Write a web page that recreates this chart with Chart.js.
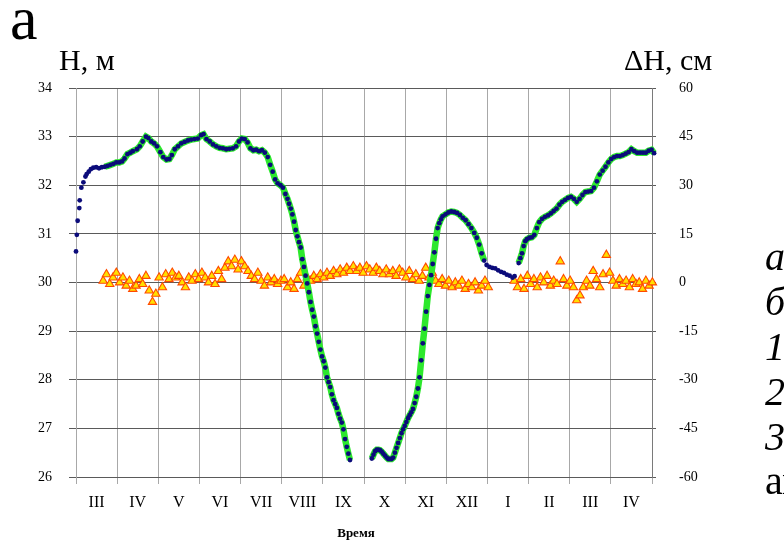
<!DOCTYPE html>
<html>
<head>
<meta charset="utf-8">
<script src="https://cdn.jsdelivr.net/npm/chart.js@4.4.1/dist/chart.umd.min.js"></script>
<style>
  html, body { margin: 0; padding: 0; background: #fff; }
  #wrap { width: 784px; height: 547px; }
</style>
</head>
<body>
<div id="wrap"><canvas id="chart" width="784" height="547"></canvas></div>
<script>
// Month bands along the time axis (one band = one month)
const monthLabels = ["III", "IV", "V", "VI", "VII", "VIII", "IX", "X", "XI", "XII", "I", "II", "III", "IV"];
const hTicks = [26, 27, 28, 29, 30, 31, 32, 33, 34];
const dhTicks = [-60, -45, -30, -15, 0, 15, 30, 45, 60];

// Water level H (m), time in months from the start of March
const hTime = [
  0.00, 0.02, 0.04, 0.08, 0.09, 0.13, 0.18, 0.23, 0.26, 0.31, 0.36, 0.42, 0.49, 0.56, 0.63, 0.70, 0.77, 0.84, 0.91, 0.98, 1.05, 1.12, 1.18, 1.25,
  1.32, 1.38, 1.48, 1.55, 1.62, 1.70, 1.76, 1.83, 1.90, 1.97,
  2.05, 2.12, 2.20, 2.27, 2.33, 2.40, 2.48, 2.56, 2.64, 2.72, 2.80, 2.88, 2.96,
  3.04, 3.10, 3.17, 3.25, 3.33, 3.41, 3.49, 3.57, 3.65, 3.73, 3.81, 3.89, 3.96,
  4.03, 4.10, 4.17, 4.24, 4.31, 4.38, 4.45, 4.52, 4.59, 4.66, 4.72, 4.78, 4.84, 4.90, 4.97,
  5.03, 5.09,
  5.14, 5.18, 5.22, 5.26, 5.30, 5.34, 5.38, 5.42, 5.46, 5.50, 5.54, 5.58, 5.62, 5.66, 5.70, 5.74, 5.78, 5.82, 5.86, 5.90,
  5.94, 5.98, 6.02, 6.06, 6.10, 6.14, 6.18, 6.22, 6.26, 6.30, 6.34, 6.38, 6.42, 6.46, 6.50, 6.54, 6.58, 6.62, 6.66,
  6.90,
  7.19, 7.23, 7.27, 7.31, 7.35, 7.39, 7.43, 7.47, 7.51, 7.55, 7.59, 7.63, 7.67, 7.71, 7.75, 7.79, 7.83, 7.87, 7.91, 7.95, 7.99, 8.03,
  8.07, 8.11, 8.15, 8.19, 8.23, 8.27, 8.31, 8.35, 8.39, 8.43, 8.47, 8.51, 8.55, 8.59, 8.63, 8.67, 8.71, 8.75, 8.79, 8.83, 8.87, 8.91,
  8.98, 9.05, 9.12, 9.19, 9.26, 9.33, 9.40, 9.47, 9.54, 9.61, 9.68, 9.74, 9.80,
  9.86, 9.92, 9.98, 10.05, 10.12, 10.19, 10.26, 10.33, 10.40, 10.47, 10.54, 10.61, 10.66,
  10.70,
  10.76, 10.80, 10.84, 10.88, 10.92, 10.96, 11.02, 11.08, 11.14, 11.20, 11.26, 11.33, 11.40, 11.47, 11.54, 11.61, 11.68,
  11.75, 11.82, 11.89, 11.96, 12.03, 12.10, 12.17, 12.24, 12.31, 12.38, 12.45, 12.52, 12.59, 12.66, 12.73, 12.80, 12.87,
  12.94, 13.01, 13.08, 13.15, 13.22, 13.29, 13.36, 13.43, 13.50, 13.57, 13.64, 13.71, 13.78, 13.85, 13.92, 13.99, 14.05
];
const hValue = [
  30.64, 30.98, 31.27, 31.53, 31.69, 31.95, 32.06, 32.18, 32.23, 32.28, 32.33, 32.36, 32.37, 32.35, 32.37, 32.38, 32.40, 32.42, 32.44, 32.47, 32.47, 32.49, 32.55, 32.64,
  32.67, 32.70, 32.74, 32.80, 32.90, 33.00, 32.97, 32.90, 32.86, 32.80,
  32.68, 32.58, 32.53, 32.54, 32.62, 32.74, 32.80, 32.86, 32.89, 32.92, 32.94, 32.95, 32.96,
  33.03, 33.05, 32.95, 32.90, 32.84, 32.80, 32.77, 32.76, 32.74, 32.75, 32.76, 32.80, 32.90,
  32.96, 32.95, 32.88, 32.76, 32.72, 32.73, 32.70, 32.72, 32.67, 32.58, 32.42, 32.28, 32.12, 32.04, 32.00,
  31.95, 31.82,
  31.72, 31.62, 31.52, 31.40, 31.25, 31.08, 30.95, 30.83, 30.72, 30.48, 30.32, 30.14, 29.98, 29.80, 29.60, 29.44, 29.30, 29.10, 28.95, 28.78,
  28.62, 28.48, 28.38, 28.25, 28.05, 27.95, 27.85, 27.70, 27.58, 27.50, 27.42, 27.30, 27.20, 27.12, 26.98, 26.78, 26.62, 26.48, 26.35,
  null,
  26.38, 26.46, 26.53, 26.56, 26.56, 26.55, 26.52, 26.48, 26.44, 26.40, 26.37, 26.37, 26.37, 26.40, 26.50, 26.60, 26.70, 26.80, 26.90, 26.98, 27.05, 27.13,
  27.21, 27.27, 27.33, 27.40, 27.52, 27.65, 27.82, 28.05, 28.40, 28.75, 29.05, 29.40, 29.72, 29.95, 30.15, 30.38, 30.62, 30.90, 31.12, 31.22, 31.30, 31.36,
  31.40, 31.44, 31.46, 31.45, 31.43, 31.39, 31.33, 31.28, 31.20, 31.12, 31.02, 30.92, 30.78,
  30.60, 30.45, 30.36, 30.32, 30.30, 30.29, 30.25, 30.22, 30.20, 30.16, 30.14, 30.10, 30.13,
  null,
  30.40, 30.50, 30.60, 30.75, 30.85, 30.89, 30.92, 30.93, 30.98, 31.12, 31.24, 31.31, 31.35, 31.38, 31.42, 31.47, 31.52,
  31.60, 31.66, 31.70, 31.74, 31.76, 31.72, 31.66, 31.72, 31.80, 31.86, 31.87, 31.88, 31.95, 32.08, 32.22, 32.30, 32.38,
  32.47, 32.54, 32.58, 32.60, 32.60, 32.62, 32.65, 32.68, 32.74, 32.70, 32.67, 32.67, 32.67, 32.67, 32.71, 32.73, 32.66
];
// Stretches of time where the second (green) H series is recorded
const greenSpans = [[0.70, 9.95], [10.76, 14.10]];

// Level difference dH (cm)
const dhTime = [
  0.66, 0.74, 0.82, 0.90, 0.98, 1.06, 1.14, 1.22, 1.30, 1.38, 1.46, 1.54, 1.62, 1.70, 1.78, 1.86, 1.94, 2.02, 2.10, 2.18,
  2.26, 2.34, 2.42, 2.50, 2.58, 2.66, 2.74, 2.82, 2.90, 2.98, 3.06, 3.14, 3.22, 3.30, 3.38, 3.46, 3.54, 3.62, 3.70, 3.78,
  3.86, 3.94, 4.02, 4.10, 4.18, 4.26, 4.34, 4.42, 4.50, 4.58, 4.66, 4.74, 4.82, 4.90, 4.98, 5.06, 5.14, 5.22, 5.30, 5.38,
  5.46, 5.54, 5.62, 5.70, 5.78, 5.86, 5.94, 6.02, 6.10, 6.18, 6.26, 6.34, 6.42, 6.50, 6.58, 6.66, 6.74, 6.82, 6.90, 6.98,
  7.06, 7.14, 7.22, 7.30, 7.38, 7.46, 7.54, 7.62, 7.70, 7.78, 7.86, 7.94, 8.02, 8.10, 8.18, 8.26, 8.34, 8.42, 8.50, 8.58,
  8.66, 8.74, 8.82, 8.90, 8.98, 9.06, 9.14, 9.22, 9.30, 9.38, 9.46, 9.54, 9.62, 9.70, 9.78, 9.86, 9.94, 10.02,
  10.65, 10.73, 10.81, 10.89, 10.97, 11.05, 11.13, 11.21, 11.29, 11.37, 11.45, 11.53, 11.61, 11.69, 11.77, 11.85, 11.93, 12.01, 12.09, 12.17,
  12.25, 12.33, 12.41, 12.49, 12.57, 12.65, 12.73, 12.81, 12.89, 12.97, 13.05, 13.13, 13.21, 13.29, 13.37, 13.45, 13.53, 13.61, 13.69, 13.77,
  13.85, 13.93, 14.01
];
const dhValue = [
  0.5, 2.5, -0.5, 1.5, 3.0, 0.0, 1.5, -1.0, 0.5, -2.0, -1.0, 1.0, -0.5, 2.0, -2.5, -6.0, -3.5, 1.5, -1.5, 2.5,
  1.0, 3.0, 1.5, 2.0, 0.0, -1.5, 1.5, 0.5, 2.5, 1.0, 3.0, 1.5, 0.0, 2.0, -0.5, 3.5, 1.0, 4.5, 6.5, 5.0,
  7.0, 4.0, 6.5, 5.0, 3.5, 2.0, 1.0, 3.0, 0.5, -1.0, 1.5, 0.0, 1.0, -0.5, 0.5, 1.0, -1.5, 0.0, -2.0, 1.0,
  3.0, -1.0, 1.5, 0.5, 2.0, 1.0, 2.5, 1.5, 3.0, 2.0, 3.5, 2.5, 4.0, 3.0, 4.5, 3.5, 5.0, 3.5, 4.5, 3.0,
  5.0, 4.0, 3.0, 4.5, 3.5, 2.5, 4.0, 2.5, 3.5, 2.0, 4.0, 3.0, 1.5, 3.5, 1.0, 2.5, 0.5, 2.0, 4.5, 1.5,
  3.0, 0.5, -0.5, 1.0, -1.0, 0.5, -1.5, 0.0, -1.0, 0.5, -2.0, -0.5, -1.5, 0.0, -2.5, -1.0, 0.5, -1.5,
  0.5, -1.5, 1.0, -2.0, 2.0, -0.5, 1.0, -1.5, 1.5, 0.0, 2.0, -1.0, 0.5, -0.5, 6.5, 1.0, -1.0, 0.5, -1.5, -5.5,
  -4.0, -1.5, 0.5, -1.0, 3.5, 1.0, -1.5, 2.5, 8.5, 3.0, 0.5, -1.0, 1.0, -0.5, 0.5, -1.5, 1.0, -0.5, 0.0, -2.0,
  0.5, -1.0, 0.0
];

// Labels on the right of the chart
const sideLabels = ["а", "б", "1", "2", "3"];

const serif = "'Liberation Serif', 'Times New Roman', serif";

function inGreenSpan(t) {
  return greenSpans.some(function (s) { return t >= s[0] && t <= s[1]; });
}

const blueData = hTime.map(function (t, i) { return { x: t, y: hValue[i] }; });
const greenData = hTime.map(function (t, i) { return { x: t, y: inGreenSpan(t) ? hValue[i] : null }; });
const dhData = dhTime.map(function (t, i) { return { x: t, y: dhValue[i] }; });

// Extra texts: panel letter, axis units, axis title, side labels
const textPlugin = {
  id: "extraText",
  afterDraw(chart) {
    const ctx = chart.ctx;
    ctx.save();
    ctx.fillStyle = "#000";
    ctx.textBaseline = "alphabetic";
    ctx.textAlign = "left";

    ctx.font = "62px " + serif;
    ctx.fillText("а", 10, 39);

    ctx.font = "30px " + serif;
    ctx.fillText("H, м", 59, 70);
    ctx.fillText("ΔH, см", 624, 70);

    ctx.font = "bold 13px " + serif;
    ctx.textAlign = "center";
    ctx.fillText("Время", 356, 537);

    ctx.textAlign = "left";
    ctx.font = "italic 40px " + serif;
    sideLabels.forEach(function (txt, i) {
      ctx.fillText(txt, 765, 270 + i * 45);
    });
    ctx.font = "40px " + serif;
    ctx.fillText("ап", 765, 494);
    ctx.restore();
  }
};

new Chart(document.getElementById("chart"), {
  type: "scatter",
  data: {
    datasets: [
      {
        label: "H 2",
        data: blueData,
        pointRadius: 2.4,
        pointBorderWidth: 0,
        backgroundColor: "#0b0b7a",
        showLine: false,
        clip: false,
        order: 0
      },
      {
        label: "H 1",
        data: greenData,
        showLine: true,
        spanGaps: false,
        borderColor: "#2de82d",
        borderWidth: 6.5,
        pointRadius: 0,
        clip: false,
        order: 1
      },
      {
        label: "dH",
        data: dhData,
        yAxisID: "y2",
        pointStyle: "triangle",
        pointRadius: 4.8,
        backgroundColor: "#ffe000",
        borderColor: "#ff4a00",
        borderWidth: 1.1,
        showLine: false,
        clip: false,
        order: 2
      }
    ]
  },
  options: {
    responsive: false,
    animation: false,
    layout: { padding: { top: 88, left: 0, right: 0, bottom: 0 } },
    plugins: {
      legend: { display: false },
      tooltip: { enabled: false }
    },
    scales: {
      x: {
        type: "linear",
        position: "bottom",
        min: 0,
        max: 14,
        weight: 0,
        afterFit: function (s) { s.height = 7; },
        ticks: { stepSize: 1, display: false },
        grid: { color: "#a8a8a8", lineWidth: 1, tickLength: 7, tickColor: "#a8a8a8" },
        border: { display: true, color: "#5a5a5a" }
      },
      xm: {
        type: "category",
        position: "bottom",
        labels: monthLabels,
        offset: true,
        weight: 1,
        afterFit: function (s) { s.height = 63; },
        grid: { display: false, drawTicks: false },
        border: { display: false },
        ticks: {
          color: "#000",
          padding: 9,
          maxRotation: 0,
          autoSkip: false,
          font: { family: serif, size: 16 }
        }
      },
      y: {
        type: "linear",
        position: "left",
        min: 26,
        max: 34,
        afterBuildTicks: function (s) { s.ticks = hTicks.map(function (v) { return { value: v }; }); },
        afterFit: function (s) { s.width = 76; },
        grid: { color: "#5a5a5a", lineWidth: 1, tickLength: 7, tickColor: "#5a5a5a" },
        border: { display: true, color: "#a8a8a8" },
        ticks: { color: "#000", padding: 17, font: { family: serif, size: 14 } }
      },
      y2: {
        type: "linear",
        position: "right",
        min: -60,
        max: 60,
        afterBuildTicks: function (s) { s.ticks = dhTicks.map(function (v) { return { value: v }; }); },
        afterFit: function (s) { s.width = 132; },
        grid: { drawOnChartArea: false, tickLength: 4, color: "#5a5a5a" },
        border: { display: true, color: "#7a7a7a" },
        ticks: { color: "#000", padding: 23, font: { family: serif, size: 14 } }
      }
    }
  },
  plugins: [textPlugin]
});
</script>
</body>
</html>
